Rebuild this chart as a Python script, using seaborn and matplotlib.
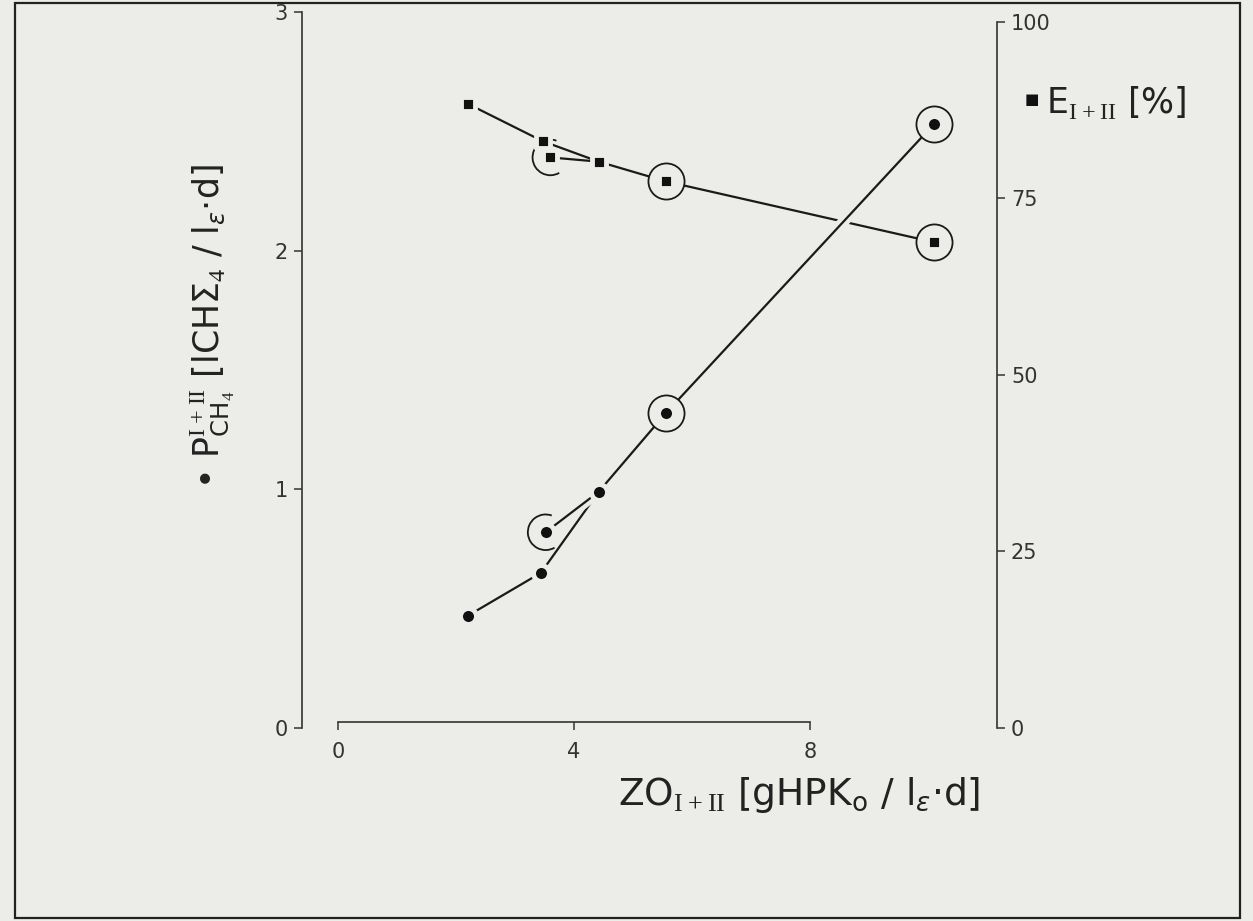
import numpy as np
import pandas as pd
import seaborn as sns
import matplotlib.pyplot as plt
import matplotlib.patheffects as pe
from matplotlib.patches import Rectangle
from matplotlib.path import Path

# values
zo_p = [2.2, 3.44, 3.52, 4.42, 5.56, 10.1]      # ZO I+II for the P(CH4) points
p_ch4 = [0.47, 0.65, 0.82, 0.99, 1.32, 2.53]    # left axis
zo_e = [2.2, 3.47, 3.6, 4.42, 5.56, 10.1]       # ZO I+II for the E points
e_pct = [88.4, 83.1, 80.8, 80.2, 77.4, 68.8]    # right axis, %

# which points get joined and which are circled
seg_a = [0, 1, 3]
seg_b = [2, 3, 4, 5]
ringed = [4, 5]
half_ringed = [2]

left_ticks = [0, 1, 2, 3]
right_ticks = [0, 25, 50, 75, 100]
x_ticks = [0, 4, 8]

bg = '#ecece8'

sns.set_theme(style='white')
plt.rcParams['font.family'] = ['DejaVu Sans']
plt.rcParams['mathtext.fontset'] = 'custom'
plt.rcParams['mathtext.rm'] = 'Liberation Serif'
plt.rcParams['mathtext.sf'] = 'DejaVu Sans'
plt.rcParams['mathtext.it'] = 'DejaVu Sans:italic'

p_df = pd.DataFrame({'zo': zo_p, 'p': p_ch4})
e_df = pd.DataFrame({'zo': zo_e, 'e': e_pct})

fig = plt.figure(figsize=(12.53, 9.21), dpi=100, facecolor=bg)
ax = fig.add_axes([0.241, 0.2096, 0.5547, 0.7774])
ax2 = ax.twinx()
ax.set_zorder(ax2.get_zorder() + 1)
ax.patch.set_visible(False)
ax2.patch.set_visible(False)

arc = Path.arc(70, 300)

# E series on the right axis
for seg in (seg_a, seg_b):
    sns.lineplot(data=e_df.iloc[seg], x='zo', y='e', ax=ax2, sort=False,
                 estimator=None, color='#1a1a1a', lw=1.6, zorder=2)
sns.scatterplot(data=e_df.iloc[ringed], x='zo', y='e', ax=ax2, s=676,
                marker='o', facecolor=bg, edgecolor='#1a1a1a', linewidth=1.3, zorder=3)
sns.scatterplot(data=e_df.iloc[half_ringed], x='zo', y='e', ax=ax2, s=676,
                marker=arc, facecolor='none', edgecolor='#1a1a1a', linewidth=1.3, zorder=3)
sns.scatterplot(data=e_df, x='zo', y='e', ax=ax2, s=110, marker='s',
                color='#111111', edgecolor=bg, linewidth=3.5, zorder=4)

# P series on the left axis
for seg in (seg_a, seg_b):
    sns.lineplot(data=p_df.iloc[seg], x='zo', y='p', ax=ax, sort=False,
                 estimator=None, color='#1a1a1a', lw=1.6, zorder=2)
    ax.lines[-1].set_path_effects([pe.Stroke(linewidth=8, foreground=bg), pe.Normal()])
sns.scatterplot(data=p_df.iloc[ringed], x='zo', y='p', ax=ax, s=676,
                marker='o', facecolor=bg, edgecolor='#1a1a1a', linewidth=1.3, zorder=3)
sns.scatterplot(data=p_df.iloc[half_ringed], x='zo', y='p', ax=ax, s=676,
                marker=arc, facecolor='none', edgecolor='#1a1a1a', linewidth=1.3, zorder=3)
sns.scatterplot(data=p_df, x='zo', y='p', ax=ax, s=132, marker='o',
                color='#111111', edgecolor=bg, linewidth=3.5, zorder=4)

# axes
ax.set_xlim(-0.61, 11.17)
ax.set_ylim(0, 3)
ax2.set_ylim(0.28, 101.4)
ax.set_xlabel('')
ax.set_ylabel('')
ax2.set_ylabel('')

for s in ['top', 'right']:
    ax.spines[s].set_visible(False)
for s in ['top', 'left', 'bottom']:
    ax2.spines[s].set_visible(False)
ax.spines['left'].set_bounds(0, 3)
ax.spines['bottom'].set_bounds(0, 8)
ax.spines['bottom'].set_position(('axes', 0.008))
ax2.spines['right'].set_bounds(0, 100)
for sp in [ax.spines['left'], ax.spines['bottom'], ax2.spines['right']]:
    sp.set_color('#333333')
    sp.set_linewidth(1.2)

ax.set_yticks(left_ticks)
ax.set_xticks(x_ticks)
ax2.set_yticks(right_ticks)
ax.tick_params(axis='y', direction='out', length=6, width=1.1, pad=4,
               labelsize=15, colors='#333333', left=True)
ax.tick_params(axis='x', direction='out', length=6, width=1.1, pad=8,
               labelsize=15, colors='#333333', bottom=True)
ax2.tick_params(axis='y', direction='out', length=6, width=1.1, pad=4,
                labelsize=15, colors='#333333', right=True)

# labels
fig.text(0.169, 0.645,
         r'• P$_{\mathsf{CH}_4}^{\mathrm{I+II}}$ [lCHΣ$_4$ / l$_{\varepsilon}$·d]',
         rotation=90, ha='center', va='center', fontsize=25, color='#222222')
fig.text(0.638, 1 - 795 / 921,
         r'ZO$_{\mathrm{I+II}}$ [gHPK$_{\mathsf{o}}$ / l$_{\varepsilon}$·d]',
         ha='center', va='center', fontsize=27, color='#222222')
fig.text(0.818, 1 - 100 / 921, '■', ha='left', va='center', fontsize=11, color='#111111')
fig.text(0.835, 1 - 102 / 921, r'E$_{\mathrm{I+II}}$ [%]',
         ha='left', va='center', fontsize=25, color='#222222')

# page frame of the scan
fig.add_artist(Rectangle((0.012, 0.003), 0.978, 0.9935, transform=fig.transFigure,
                         fill=False, lw=1.6, ec='#222222'))

fig.savefig('out.png', dpi=100, facecolor=bg)
